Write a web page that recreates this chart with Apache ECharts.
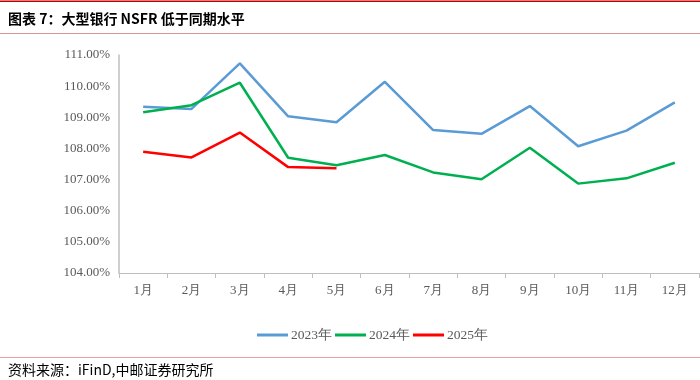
<!DOCTYPE html>
<html><head><meta charset="utf-8">
<script src="https://cdn.jsdelivr.net/npm/echarts@6/dist/echarts.min.js"></script>
<style>html,body{margin:0;padding:0;background:#fff}#c{width:700px;height:380px}</style>
</head><body><div id="c"></div>
<script>
const categories = ['1月','2月','3月','4月','5月','6月','7月','8月','9月','10月','11月','12月'];
const s2023 = [109.34,109.27,110.73,109.03,108.84,110.14,108.59,108.47,109.36,108.07,108.57,109.48];
const s2024 = [109.16,109.39,110.11,107.70,107.46,107.79,107.23,107.01,108.02,106.87,107.04,107.54];
const s2025 = [107.89,107.71,108.51,107.40,107.36];
const seriesNames = ['2023年','2024年','2025年'];
const yTicks = {min:104, max:111, interval:1};

const chart = echarts.init(document.getElementById('c'));
const serif = '"Liberation Serif","DejaVu Serif",serif';
const cjk = '"Noto Sans CJK SC",sans-serif';
function mk(name, data, color){
  return {name, type:'line', data, symbol:'none', smooth:false,
    lineStyle:{color, width:2.5}, itemStyle:{color}};
}
chart.setOption({
  animation:false,
  grid:{left:119, right:1, top:55, bottom:107, containLabel:false},
  legend:{top:328, left:257, padding:0, icon:'rect', itemWidth:31, itemHeight:3, itemGap:3,
    textStyle:{fontFamily:serif, fontSize:13.5, color:'#595959', padding:[0,0,0,-2]},
    data:seriesNames},
  xAxis:{type:'category', data:categories, boundaryGap:true,
    axisLine:{lineStyle:{color:'#bfbfbf', width:1}},
    axisTick:{show:true, length:5, lineStyle:{color:'#bfbfbf'}},
    axisLabel:{fontFamily:serif, fontSize:13, color:'#595959', margin:11}},
  yAxis:{type:'value', min:yTicks.min, max:yTicks.max, interval:yTicks.interval,
    axisLine:{show:true, lineStyle:{color:'#bfbfbf', width:1.5}},
    axisTick:{show:false}, splitLine:{show:false},
    axisLabel:{fontFamily:serif, fontSize:13, color:'#595959', margin:9,
      formatter:v=>v.toFixed(2)+'%'}},
  series:[mk(seriesNames[0], s2023, '#5b9bd5'), mk(seriesNames[1], s2024, '#00b050'), mk(seriesNames[2], s2025, '#ff0000')],
  graphic:[
    {type:'rect', shape:{x:0,y:0.5,width:700,height:1.5}, style:{fill:'#c00000'}},
    {type:'text', left:8, top:12, style:{text:'图表 7：大型银行 NSFR 低于同期水平', fontFamily:cjk, fontWeight:'bold', fontSize:14, fill:'#000'}},
    {type:'rect', shape:{x:0,y:33,width:700,height:1}, style:{fill:'#d99694'}},
    {type:'rect', shape:{x:0,y:357,width:700,height:1}, style:{fill:'#e6a0a0'}},
    {type:'text', left:8, top:363, style:{text:'资料来源：iFinD,中邮证券研究所', fontFamily:cjk, fontSize:14, fill:'#000'}}
  ]
});
</script></body></html>
